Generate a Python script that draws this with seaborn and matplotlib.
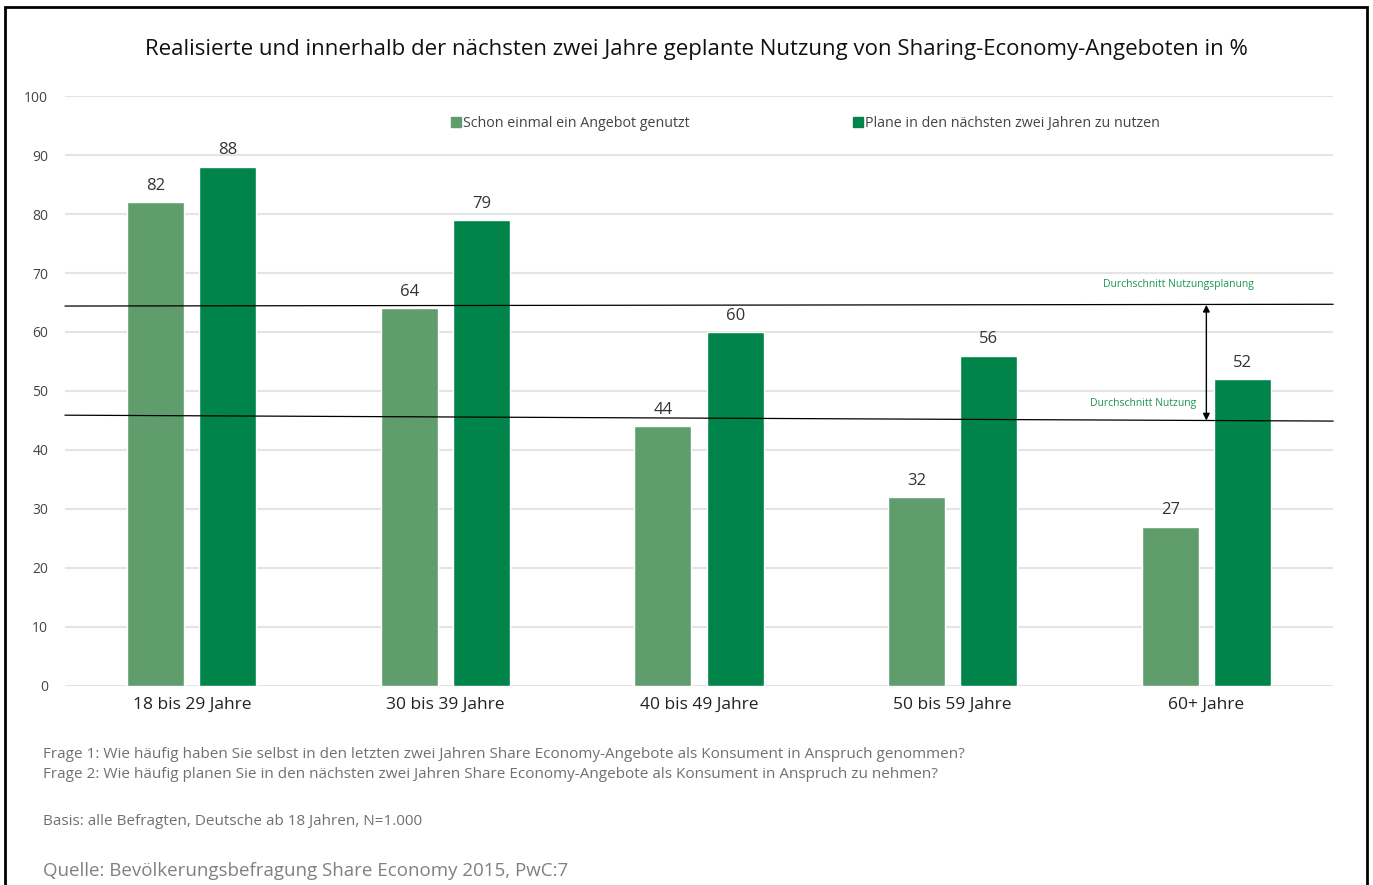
import matplotlib
matplotlib.use("Agg")
import matplotlib.pyplot as plt
import seaborn as sns
import pandas as pd
from matplotlib.patches import Rectangle
from matplotlib.lines import Line2D

# Daten
altersgruppen = ["18 bis 29 Jahre", "30 bis 39 Jahre", "40 bis 49 Jahre", "50 bis 59 Jahre", "60+ Jahre"]
genutzt = [82, 64, 44, 32, 27]
geplant = [88, 79, 60, 56, 52]
serien = ["Schon einmal ein Angebot genutzt", "Plane in den nächsten zwei Jahren zu nutzen"]
schnitt_planung = [64.4, 64.7]   # Linie links / rechts
schnitt_nutzung = [45.9, 44.9]
yticks = [0, 10, 20, 30, 40, 50, 60, 70, 80, 90, 100]

farben = ["#5f9d6d", "#00844a"]
gruen_text = "#1a9650"

df = pd.DataFrame({
    "gruppe": altersgruppen * 2,
    "serie": [serien[0]] * 5 + [serien[1]] * 5,
    "wert": genutzt + geplant,
})

sns.set_style("white")
plt.rcParams["font.family"] = ["Open Sans", "DejaVu Sans"]

fig = plt.figure(figsize=(13.73, 8.85), dpi=100)
ax = fig.add_axes([0.0473, 0.2249, 0.9237, 0.6666])

sns.barplot(data=df, x="gruppe", y="wert", hue="serie", palette=farben,
            width=0.57, gap=0.21, ax=ax, legend=False, saturation=1)

for cont in ax.containers:
    ax.bar_label(cont, padding=6, fontsize=12, color="#333333")

ax.set_xlim(-0.5, 4.5)
ax.set_ylim(0, 100)
ax.set_yticks(yticks)
ax.yaxis.grid(True, color="#e4e4e4", linewidth=1.5)
ax.set_axisbelow(True)
for s in ax.spines.values():
    s.set_visible(False)
ax.set_xlabel("")
ax.set_ylabel("")
ax.tick_params(axis="y", labelsize=10, labelcolor="#444444", length=0, pad=12)
ax.tick_params(axis="x", labelsize=12.5, labelcolor="#222222", length=0, pad=8)

# Durchschnittslinien
ax.plot([-0.5, 4.5], schnitt_planung, color="black", linewidth=0.9, clip_on=False)
ax.plot([-0.5, 4.5], schnitt_nutzung, color="black", linewidth=0.9, clip_on=False)
ax.annotate("", xy=(4.0, 45.0), xytext=(4.0, 64.6),
            arrowprops=dict(arrowstyle="<|-|>", color="black", lw=1, mutation_scale=10,
                            shrinkA=0, shrinkB=0))
ax.text(3.89, 68.0, "Durchschnitt Nutzungsplanung", fontsize=7.5, color=gruen_text,
        ha="center", va="center")
ax.text(3.96, 47.8, "Durchschnitt Nutzung", fontsize=7.5, color=gruen_text,
        ha="right", va="center")

# Legende
handles = [Line2D([], [], marker="s", linestyle="", color=c, markersize=7) for c in farben]
ax.legend(handles, serien, ncol=2, loc="center", bbox_to_anchor=(0.583, 0.954),
          frameon=False, fontsize=10.3, handletextpad=0.0, columnspacing=11.3,
          labelcolor="#444444", handlelength=1.0)

fig.text(0.507, 0.944, "Realisierte und innerhalb der nächsten zwei Jahre geplante Nutzung von Sharing-Economy-Angeboten in %",
         ha="center", va="center", fontsize=16, color="#111111")

fig.text(0.031, 0.147, "Frage 1: Wie häufig haben Sie selbst in den letzten zwei Jahren Share Economy-Angebote als Konsument in Anspruch genommen?",
         fontsize=11, color="#707070", va="center")
fig.text(0.031, 0.125, "Frage 2: Wie häufig planen Sie in den nächsten zwei Jahren Share Economy-Angebote als Konsument in Anspruch zu nehmen?",
         fontsize=11, color="#707070", va="center")
fig.text(0.031, 0.072, "Basis: alle Befragten, Deutsche ab 18 Jahren, N=1.000",
         fontsize=11, color="#707070", va="center")
fig.text(0.031, 0.016, "Quelle: Bevölkerungsbefragung Share Economy 2015, PwC:7",
         fontsize=13.5, color="#808080", va="center")

# Rahmen
fig.patches.append(Rectangle((0.0036, -0.1), 0.992, 1.092, transform=fig.transFigure,
                             fill=False, edgecolor="black", linewidth=2))

fig.savefig("out.png", dpi=100)
